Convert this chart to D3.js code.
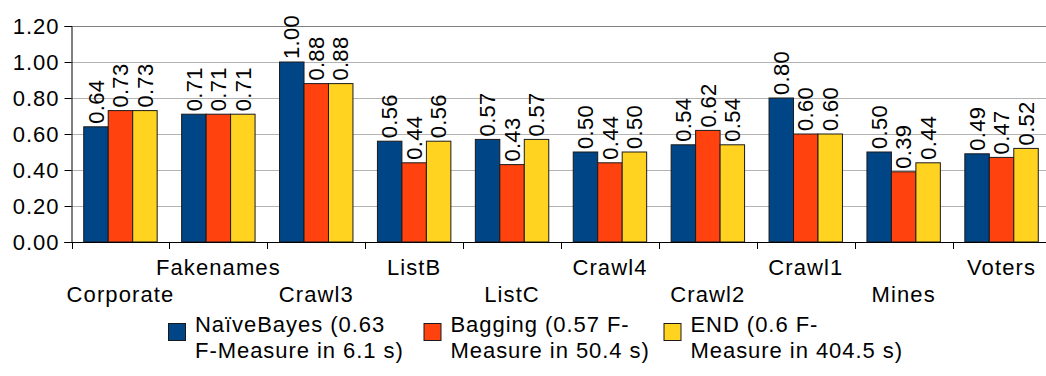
<!DOCTYPE html>
<html><head><meta charset="utf-8">
<script src="https://cdn.jsdelivr.net/npm/d3@7"></script>
<style>
html,body{margin:0;padding:0;background:#fff;overflow:hidden;}
text{font-family:"Liberation Sans",Arial,sans-serif;fill:#000;}
</style></head>
<body><svg id="c" width="1046" height="376"></svg>
<script>
const categories = ["Corporate","Fakenames","Crawl3","ListB","ListC","Crawl4","Crawl2","Crawl1","Mines","Voters"];
const seriesNames = ["NaïveBayes","Bagging","END"];
const naiveBayes = [0.64,0.71,1.00,0.56,0.57,0.50,0.54,0.80,0.50,0.49];
const bagging    = [0.73,0.71,0.88,0.44,0.43,0.44,0.62,0.60,0.39,0.47];
const endVals    = [0.73,0.71,0.88,0.56,0.57,0.50,0.54,0.60,0.44,0.52];
const legendLines = [["NaïveBayes (0.63","F-Measure in 6.1 s)"],["Bagging (0.57 F-","Measure in 50.4 s)"],["END (0.6 F-","Measure in 404.5 s)"]];
const yTicks = [0,0.2,0.4,0.6,0.8,1.0,1.2];
const colors = ["#004586","#ff420e","#ffd320"];

const series = [naiveBayes,bagging,endVals];
const FS = 22;
const pLeft = 71.5, pTop = 26, pBottom = 242, catW = 97.9;
const pRight = pLeft + catW*categories.length;
const svg = d3.select("#c");

const x = d3.scaleBand().domain(categories).range([pLeft,pRight]).paddingInner(0).paddingOuter(0);
const xs = d3.scaleBand().domain(d3.range(3)).range([0,x.bandwidth()]).paddingInner(0).paddingOuter(0.5);
const y = d3.scaleLinear().domain([0,1.2]).range([pBottom,pTop]);

// gridlines
svg.append("g").selectAll("line").data(yTicks.filter(d=>d>0)).join("line")
  .attr("x1",pLeft).attr("x2",pRight)
  .attr("y1",d=>Math.round(y(d))+0.5).attr("y2",d=>Math.round(y(d))+0.5)
  .attr("stroke",d=>d===1.2?"#808080":"#b3b3b3").attr("stroke-width",1);

// bars
const g = svg.append("g");
series.forEach((vals,si)=>{
  g.selectAll(null).data(vals).join("rect")
    .attr("x",(d,i)=>x(categories[i])+xs(si))
    .attr("y",d=>y(d))
    .attr("width",xs.bandwidth())
    .attr("height",d=>pBottom-y(d))
    .attr("fill",colors[si]).attr("stroke","#1a1a1a").attr("stroke-width",1);
});

// y axis
const ya = svg.append("g").attr("transform",`translate(${pLeft},0)`)
  .call(d3.axisLeft(y).tickValues(yTicks).tickFormat(d3.format(".2f")).tickSize(7).tickPadding(5));
ya.select(".domain").attr("stroke","#000");
ya.selectAll(".tick line").attr("stroke","#000");
ya.selectAll("text").attr("font-size",FS).attr("letter-spacing",1)
  .attr("font-family","Liberation Sans, Arial, sans-serif").attr("fill","#000");

// x axis with ticks at boundaries
const xa = svg.append("g").attr("transform",`translate(0,${pBottom})`);
xa.append("line").attr("x1",pLeft-7).attr("x2",pRight).attr("y1",0.5).attr("y2",0.5).attr("stroke","#000");
xa.selectAll("line.tk").data(d3.range(categories.length+1)).join("line").attr("class","tk")
  .attr("x1",i=>Math.round(pLeft+i*catW)+0.5).attr("x2",i=>Math.round(pLeft+i*catW)+0.5)
  .attr("y1",0).attr("y2",7).attr("stroke","#000");
xa.selectAll("text").data(categories).join("text")
  .attr("x",d=>x(d)+x.bandwidth()/2)
  .attr("y",(d,i)=>i%2===1?33:59.7)
  .attr("text-anchor","middle").attr("font-size",FS).attr("letter-spacing",1.1).text(d=>d);

// value labels
series.forEach((vals,si)=>{
  svg.append("g").selectAll("text").data(vals).join("text")
    .attr("transform",(d,i)=>`translate(${x(categories[i])+xs(si)+xs.bandwidth()/2},${y(d)-3}) rotate(-90)`)
    .attr("dy","0.35em").attr("font-size",FS).attr("letter-spacing",0.3).text(d=>d3.format(".2f")(d));
});

// legend
const legX = [168.5,424,664];
const lg = svg.append("g");
legendLines.forEach((lines,i)=>{
  lg.append("rect").attr("x",legX[i]).attr("y",323.5).attr("width",17).attr("height",17)
    .attr("fill",colors[i]).attr("stroke","#1a1a1a");
  const t = lg.append("text").attr("x",legX[i]+26.5).attr("y",331.7).attr("font-size",FS).attr("letter-spacing",0.95);
  lines.forEach((l,j)=>t.append("tspan").attr("x",legX[i]+26.5).attr("dy",j===0?0:26.7).text(l));
});
</script></body></html>
